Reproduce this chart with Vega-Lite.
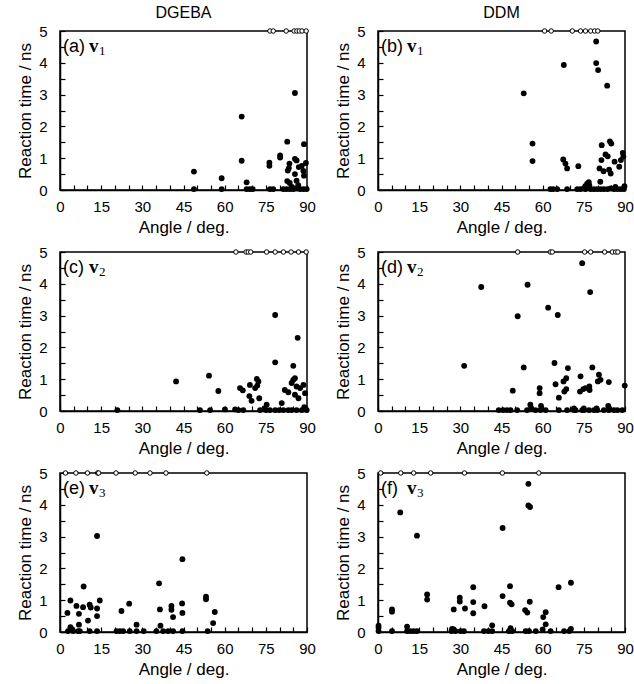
{
"$schema":"https://vega.github.io/schema/vega-lite/v6.json",
"padding":{"left":15,"top":4,"right":1,"bottom":0},
"background":"white",
"datasets":{
"points":[
{"panel":"a","angle":48.8,"time":0.58},{"panel":"a","angle":48.8,"time":0.03},{"panel":"a","angle":58.9,"time":0.37},{"panel":"a","angle":58.9,"time":0.03},{"panel":"a","angle":66.2,"time":2.31},{"panel":"a","angle":66.2,"time":0.92},{"panel":"a","angle":68.0,"time":0.24},{"panel":"a","angle":68.0,"time":0.03},{"panel":"a","angle":69.2,"time":0.03},{"panel":"a","angle":70.2,"time":0.03},{"panel":"a","angle":76.3,"time":0.86},{"panel":"a","angle":76.3,"time":0.76},{"panel":"a","angle":76.5,"time":0.03},{"panel":"a","angle":77.7,"time":0.03},{"panel":"a","angle":80.2,"time":1.09},{"panel":"a","angle":80.2,"time":1.02},{"panel":"a","angle":82.8,"time":1.52},{"panel":"a","angle":83.6,"time":0.83},{"panel":"a","angle":83.4,"time":0.69},{"panel":"a","angle":83.0,"time":0.61},{"panel":"a","angle":82.8,"time":0.28},{"panel":"a","angle":83.7,"time":0.22},{"panel":"a","angle":85.6,"time":3.05},{"panel":"a","angle":85.6,"time":0.98},{"panel":"a","angle":86.2,"time":0.93},{"panel":"a","angle":85.6,"time":0.5},{"panel":"a","angle":86.2,"time":0.29},{"panel":"a","angle":86.8,"time":0.15},{"panel":"a","angle":88.9,"time":1.44},{"panel":"a","angle":89.6,"time":0.85},{"panel":"a","angle":88.1,"time":0.76},{"panel":"a","angle":88.7,"time":0.6},{"panel":"a","angle":88.9,"time":0.45},{"panel":"a","angle":87.0,"time":0.72},{"panel":"a","angle":84.5,"time":0.1},{"panel":"a","angle":81.4,"time":0.03},{"panel":"a","angle":82.6,"time":0.03},{"panel":"a","angle":83.8,"time":0.03},{"panel":"a","angle":85.0,"time":0.03},{"panel":"a","angle":86.2,"time":0.05},{"panel":"a","angle":87.5,"time":0.03},{"panel":"a","angle":88.7,"time":0.03},{"panel":"a","angle":89.9,"time":0.03},
{"panel":"a","angle":76.5,"time":5,"beyond":true},{"panel":"a","angle":77.7,"time":5,"beyond":true},{"panel":"a","angle":82.4,"time":5,"beyond":true},{"panel":"a","angle":85.3,"time":5,"beyond":true},{"panel":"a","angle":86.3,"time":5,"beyond":true},{"panel":"a","angle":87.2,"time":5,"beyond":true},{"panel":"a","angle":88.2,"time":5,"beyond":true},{"panel":"a","angle":89.7,"time":5,"beyond":true},
{"panel":"b","angle":53.1,"time":3.04},{"panel":"b","angle":56.3,"time":1.46},{"panel":"b","angle":56.3,"time":0.91},{"panel":"b","angle":67.7,"time":3.93},{"panel":"b","angle":67.5,"time":0.96},{"panel":"b","angle":68.3,"time":0.83},{"panel":"b","angle":68.9,"time":0.68},{"panel":"b","angle":73.0,"time":0.75},{"panel":"b","angle":79.5,"time":4.67},{"panel":"b","angle":79.5,"time":3.99},{"panel":"b","angle":80.2,"time":3.77},{"panel":"b","angle":83.5,"time":3.28},{"panel":"b","angle":81.5,"time":1.41},{"panel":"b","angle":84.5,"time":1.53},{"panel":"b","angle":85.0,"time":1.46},{"panel":"b","angle":82.9,"time":1.12},{"panel":"b","angle":83.7,"time":1.06},{"panel":"b","angle":81.4,"time":0.94},{"panel":"b","angle":80.7,"time":0.68},{"panel":"b","angle":82.2,"time":0.59},{"panel":"b","angle":84.2,"time":0.64},{"panel":"b","angle":84.8,"time":0.52},{"panel":"b","angle":86.2,"time":0.89},{"panel":"b","angle":87.9,"time":0.73},{"panel":"b","angle":88.5,"time":0.94},{"panel":"b","angle":89.2,"time":1.17},{"panel":"b","angle":89.4,"time":1.05},{"panel":"b","angle":81.0,"time":0.26},{"panel":"b","angle":76.2,"time":0.2},{"panel":"b","angle":76.8,"time":0.25},{"panel":"b","angle":75.5,"time":0.12},{"panel":"b","angle":77.0,"time":0.15},{"panel":"b","angle":86.5,"time":0.1},{"panel":"b","angle":89.8,"time":0.12},
{"panel":"b","angle":62.8,"time":0.03},{"panel":"b","angle":63.8,"time":0.03},{"panel":"b","angle":65.3,"time":0.03},{"panel":"b","angle":68.9,"time":0.03},{"panel":"b","angle":72.6,"time":0.03},{"panel":"b","angle":73.8,"time":0.03},{"panel":"b","angle":75.0,"time":0.05},{"panel":"b","angle":75.6,"time":0.03},{"panel":"b","angle":76.8,"time":0.06},{"panel":"b","angle":77.5,"time":0.03},{"panel":"b","angle":78.7,"time":0.03},{"panel":"b","angle":79.9,"time":0.03},{"panel":"b","angle":81.1,"time":0.03},{"panel":"b","angle":82.3,"time":0.03},{"panel":"b","angle":83.6,"time":0.03},{"panel":"b","angle":84.8,"time":0.05},{"panel":"b","angle":86.0,"time":0.03},{"panel":"b","angle":87.2,"time":0.03},{"panel":"b","angle":88.4,"time":0.03},{"panel":"b","angle":89.6,"time":0.03},
{"panel":"b","angle":60.7,"time":5,"beyond":true},{"panel":"b","angle":63.1,"time":5,"beyond":true},{"panel":"b","angle":70.8,"time":5,"beyond":true},{"panel":"b","angle":73.8,"time":5,"beyond":true},{"panel":"b","angle":75.6,"time":5,"beyond":true},{"panel":"b","angle":77.5,"time":5,"beyond":true},{"panel":"b","angle":78.9,"time":5,"beyond":true},{"panel":"b","angle":80.1,"time":5,"beyond":true},
{"panel":"c","angle":20.9,"time":0.03},{"panel":"c","angle":42.3,"time":0.93},{"panel":"c","angle":54.3,"time":1.11},{"panel":"c","angle":57.7,"time":0.63},{"panel":"c","angle":65.6,"time":0.72},{"panel":"c","angle":66.6,"time":0.65},{"panel":"c","angle":69.2,"time":0.82},{"panel":"c","angle":69.0,"time":0.47},{"panel":"c","angle":69.8,"time":0.32},{"panel":"c","angle":71.7,"time":1.01},{"panel":"c","angle":72.3,"time":0.93},{"panel":"c","angle":71.1,"time":0.72},{"panel":"c","angle":71.9,"time":0.8},{"panel":"c","angle":72.6,"time":0.4},{"panel":"c","angle":78.4,"time":3.02},{"panel":"c","angle":78.4,"time":1.53},{"panel":"c","angle":86.6,"time":2.3},{"panel":"c","angle":85.0,"time":1.42},{"panel":"c","angle":85.0,"time":0.98},{"panel":"c","angle":85.6,"time":1.03},{"panel":"c","angle":84.4,"time":0.88},{"panel":"c","angle":81.9,"time":0.66},{"panel":"c","angle":83.2,"time":0.59},{"panel":"c","angle":86.2,"time":0.77},{"panel":"c","angle":87.5,"time":0.72},{"panel":"c","angle":88.7,"time":0.82},{"panel":"c","angle":85.6,"time":0.51},{"panel":"c","angle":89.3,"time":0.56},{"panel":"c","angle":86.9,"time":0.4},{"panel":"c","angle":80.8,"time":0.25},{"panel":"c","angle":75.3,"time":0.2},{"panel":"c","angle":74.5,"time":0.08},{"panel":"c","angle":89.0,"time":0.12},
{"panel":"c","angle":51.0,"time":0.03},{"panel":"c","angle":54.7,"time":0.03},{"panel":"c","angle":60.1,"time":0.05},{"panel":"c","angle":63.8,"time":0.05},{"panel":"c","angle":65.0,"time":0.03},{"panel":"c","angle":66.8,"time":0.03},{"panel":"c","angle":72.9,"time":0.03},{"panel":"c","angle":75.1,"time":0.03},{"panel":"c","angle":76.5,"time":0.03},{"panel":"c","angle":78.4,"time":0.03},{"panel":"c","angle":79.9,"time":0.03},{"panel":"c","angle":81.4,"time":0.03},{"panel":"c","angle":83.2,"time":0.03},{"panel":"c","angle":84.4,"time":0.03},{"panel":"c","angle":86.2,"time":0.03},{"panel":"c","angle":88.1,"time":0.03},{"panel":"c","angle":89.9,"time":0.03},
{"panel":"c","angle":64.1,"time":5,"beyond":true},{"panel":"c","angle":67.8,"time":5,"beyond":true},{"panel":"c","angle":68.6,"time":5,"beyond":true},{"panel":"c","angle":69.5,"time":5,"beyond":true},{"panel":"c","angle":75.3,"time":5,"beyond":true},{"panel":"c","angle":78.4,"time":5,"beyond":true},{"panel":"c","angle":81.4,"time":5,"beyond":true},{"panel":"c","angle":84.2,"time":5,"beyond":true},{"panel":"c","angle":86.9,"time":5,"beyond":true},{"panel":"c","angle":89.7,"time":5,"beyond":true},
{"panel":"d","angle":31.4,"time":1.42},{"panel":"d","angle":37.6,"time":3.9},{"panel":"d","angle":49.1,"time":0.64},{"panel":"d","angle":50.9,"time":2.98},{"panel":"d","angle":53.1,"time":1.37},{"panel":"d","angle":54.5,"time":3.97},{"panel":"d","angle":55.5,"time":0.2},{"panel":"d","angle":55.8,"time":0.1},{"panel":"d","angle":58.9,"time":0.72},{"panel":"d","angle":58.9,"time":0.56},{"panel":"d","angle":59.4,"time":0.16},{"panel":"d","angle":62.0,"time":3.25},{"panel":"d","angle":64.3,"time":1.51},{"panel":"d","angle":65.5,"time":3.02},{"panel":"d","angle":64.7,"time":0.84},{"panel":"d","angle":65.9,"time":0.42},{"panel":"d","angle":67.6,"time":0.93},{"panel":"d","angle":68.6,"time":1.03},{"panel":"d","angle":67.9,"time":0.61},{"panel":"d","angle":68.6,"time":0.69},{"panel":"d","angle":69.2,"time":1.35},{"panel":"d","angle":73.8,"time":1.09},{"panel":"d","angle":73.6,"time":0.61},{"panel":"d","angle":74.8,"time":0.69},{"panel":"d","angle":75.6,"time":0.72},{"panel":"d","angle":74.4,"time":4.65},{"panel":"d","angle":77.0,"time":0.77},{"panel":"d","angle":77.1,"time":0.66},{"panel":"d","angle":77.3,"time":3.74},{"panel":"d","angle":78.1,"time":1.37},{"panel":"d","angle":80.5,"time":1.14},{"panel":"d","angle":81.1,"time":0.98},{"panel":"d","angle":80.1,"time":0.93},{"panel":"d","angle":84.1,"time":0.91},{"panel":"d","angle":83.9,"time":0.16},{"panel":"d","angle":89.9,"time":0.8},
{"panel":"d","angle":44.0,"time":0.03},{"panel":"d","angle":45.6,"time":0.03},{"panel":"d","angle":47.0,"time":0.03},{"panel":"d","angle":48.3,"time":0.03},{"panel":"d","angle":50.7,"time":0.03},{"panel":"d","angle":54.3,"time":0.03},{"panel":"d","angle":57.4,"time":0.03},{"panel":"d","angle":59.2,"time":0.03},{"panel":"d","angle":61.1,"time":0.03},{"panel":"d","angle":65.9,"time":0.03},{"panel":"d","angle":68.9,"time":0.03},{"panel":"d","angle":71.4,"time":0.03},{"panel":"d","angle":72.0,"time":0.03},{"panel":"d","angle":74.4,"time":0.03},{"panel":"d","angle":75.0,"time":0.03},{"panel":"d","angle":76.9,"time":0.03},{"panel":"d","angle":78.7,"time":0.03},{"panel":"d","angle":79.9,"time":0.03},{"panel":"d","angle":82.3,"time":0.03},{"panel":"d","angle":84.1,"time":0.03},{"panel":"d","angle":86.0,"time":0.03},{"panel":"d","angle":87.2,"time":0.03},{"panel":"d","angle":89.0,"time":0.03},{"panel":"d","angle":71.4,"time":0.08},{"panel":"d","angle":75.0,"time":0.08},{"panel":"d","angle":79.6,"time":0.08},
{"panel":"d","angle":50.9,"time":5,"beyond":true},{"panel":"d","angle":62.8,"time":5,"beyond":true},{"panel":"d","angle":63.5,"time":5,"beyond":true},{"panel":"d","angle":75.3,"time":5,"beyond":true},{"panel":"d","angle":77.5,"time":5,"beyond":true},{"panel":"d","angle":82.6,"time":5,"beyond":true},{"panel":"d","angle":85.4,"time":5,"beyond":true},{"panel":"d","angle":86.6,"time":5,"beyond":true},{"panel":"d","angle":87.4,"time":5,"beyond":true},
{"panel":"e","angle":13.5,"time":3.02},{"panel":"e","angle":44.6,"time":2.29},{"panel":"e","angle":8.6,"time":1.43},{"panel":"e","angle":36.1,"time":1.53},{"panel":"e","angle":53.2,"time":1.11},{"panel":"e","angle":53.2,"time":1.03},{"panel":"e","angle":3.8,"time":0.99},{"panel":"e","angle":14.5,"time":0.99},{"panel":"e","angle":25.2,"time":0.89},{"panel":"e","angle":44.5,"time":0.9},{"panel":"e","angle":6.0,"time":0.82},{"panel":"e","angle":10.8,"time":0.86},{"panel":"e","angle":11.2,"time":0.77},{"panel":"e","angle":8.4,"time":0.78},{"panel":"e","angle":40.6,"time":0.82},{"panel":"e","angle":40.6,"time":0.7},{"panel":"e","angle":36.4,"time":0.71},{"panel":"e","angle":13.5,"time":0.74},{"panel":"e","angle":6.9,"time":0.57},{"panel":"e","angle":2.7,"time":0.6},{"panel":"e","angle":22.4,"time":0.66},{"panel":"e","angle":56.4,"time":0.63},{"panel":"e","angle":41.2,"time":0.47},{"panel":"e","angle":44.6,"time":0.6},{"panel":"e","angle":13.5,"time":0.5},{"panel":"e","angle":10.2,"time":0.36},{"panel":"e","angle":55.8,"time":0.28},{"panel":"e","angle":6.9,"time":0.23},{"panel":"e","angle":27.9,"time":0.23},{"panel":"e","angle":3.8,"time":0.15},{"panel":"e","angle":4.2,"time":0.1},{"panel":"e","angle":36.6,"time":0.2},
{"panel":"e","angle":2.9,"time":0.03},{"panel":"e","angle":4.8,"time":0.03},{"panel":"e","angle":6.6,"time":0.03},{"panel":"e","angle":7.2,"time":0.03},{"panel":"e","angle":10.8,"time":0.03},{"panel":"e","angle":13.5,"time":0.03},{"panel":"e","angle":20.6,"time":0.03},{"panel":"e","angle":21.8,"time":0.03},{"panel":"e","angle":23.0,"time":0.03},{"panel":"e","angle":25.4,"time":0.03},{"panel":"e","angle":27.9,"time":0.03},{"panel":"e","angle":30.5,"time":0.03},{"panel":"e","angle":35.1,"time":0.03},{"panel":"e","angle":37.6,"time":0.03},{"panel":"e","angle":39.4,"time":0.03},{"panel":"e","angle":41.2,"time":0.03},{"panel":"e","angle":44.6,"time":0.03},{"panel":"e","angle":53.8,"time":0.03},
{"panel":"e","angle":2.0,"time":5,"beyond":true},{"panel":"e","angle":5.8,"time":5,"beyond":true},{"panel":"e","angle":10.0,"time":5,"beyond":true},{"panel":"e","angle":13.7,"time":5,"beyond":true},{"panel":"e","angle":14.1,"time":5,"beyond":true},{"panel":"e","angle":20.4,"time":5,"beyond":true},{"panel":"e","angle":27.4,"time":5,"beyond":true},{"panel":"e","angle":32.8,"time":5,"beyond":true},{"panel":"e","angle":38.6,"time":5,"beyond":true},{"panel":"e","angle":53.5,"time":5,"beyond":true},
{"panel":"f","angle":54.8,"time":4.66},{"panel":"f","angle":54.8,"time":3.98},{"panel":"f","angle":55.4,"time":3.93},{"panel":"f","angle":8.1,"time":3.76},{"panel":"f","angle":14.2,"time":3.03},{"panel":"f","angle":45.4,"time":3.27},{"panel":"f","angle":70.3,"time":1.55},{"panel":"f","angle":65.8,"time":1.41},{"panel":"f","angle":48.1,"time":1.44},{"panel":"f","angle":34.7,"time":1.41},{"panel":"f","angle":17.9,"time":1.18},{"panel":"f","angle":17.9,"time":1.02},{"panel":"f","angle":29.8,"time":1.08},{"panel":"f","angle":29.8,"time":0.96},{"panel":"f","angle":45.4,"time":1.13},{"panel":"f","angle":34.7,"time":0.94},{"panel":"f","angle":31.7,"time":0.74},{"panel":"f","angle":27.6,"time":0.71},{"panel":"f","angle":38.8,"time":0.81},{"panel":"f","angle":48.1,"time":0.92},{"panel":"f","angle":48.7,"time":0.87},{"panel":"f","angle":55.3,"time":0.95},{"panel":"f","angle":34.7,"time":0.59},{"panel":"f","angle":53.6,"time":0.69},{"panel":"f","angle":54.4,"time":0.61},{"panel":"f","angle":5.1,"time":0.71},{"panel":"f","angle":5.1,"time":0.64},{"panel":"f","angle":61.1,"time":0.62},{"panel":"f","angle":60.2,"time":0.47},{"panel":"f","angle":61.1,"time":0.24},{"panel":"f","angle":41.6,"time":0.21},{"panel":"f","angle":10.6,"time":0.17},{"panel":"f","angle":0.2,"time":0.2},{"panel":"f","angle":0.2,"time":0.13},{"panel":"f","angle":48.3,"time":0.12},{"panel":"f","angle":27.0,"time":0.1},{"panel":"f","angle":27.6,"time":0.08},{"panel":"f","angle":70.3,"time":0.1},{"panel":"f","angle":60.0,"time":0.08},
{"panel":"f","angle":0.2,"time":0.03},{"panel":"f","angle":5.1,"time":0.03},{"panel":"f","angle":10.6,"time":0.03},{"panel":"f","angle":11.8,"time":0.03},{"panel":"f","angle":13.0,"time":0.03},{"panel":"f","angle":14.2,"time":0.03},{"panel":"f","angle":26.8,"time":0.03},{"panel":"f","angle":28.2,"time":0.03},{"panel":"f","angle":30.1,"time":0.03},{"panel":"f","angle":31.3,"time":0.03},{"panel":"f","angle":38.6,"time":0.03},{"panel":"f","angle":40.2,"time":0.03},{"panel":"f","angle":41.6,"time":0.03},{"panel":"f","angle":47.7,"time":0.03},{"panel":"f","angle":48.9,"time":0.03},{"panel":"f","angle":53.8,"time":0.03},{"panel":"f","angle":55.0,"time":0.03},{"panel":"f","angle":57.5,"time":0.03},{"panel":"f","angle":62.9,"time":0.03},{"panel":"f","angle":67.8,"time":0.03},{"panel":"f","angle":69.7,"time":0.03},
{"panel":"f","angle":1.0,"time":5,"beyond":true},{"panel":"f","angle":8.3,"time":5,"beyond":true},{"panel":"f","angle":13.0,"time":5,"beyond":true},{"panel":"f","angle":19.2,"time":5,"beyond":true},{"panel":"f","angle":31.5,"time":5,"beyond":true},{"panel":"f","angle":45.3,"time":5,"beyond":true},{"panel":"f","angle":58.6,"time":5,"beyond":true}
]},
"columns":2,
"bounds":"flush",
"spacing":{"row":62,"column":71},
"concat":[
{"width":247,"height":159,"title":"DGEBA",
"layer":[
{"data":{"name":"points"},"transform":[{"filter":"datum.panel==='a'"}],
"encoding":{"x":{"field":"angle","type":"quantitative","scale":{"domain":[0,90],"nice":false},"axis":{"title":"Angle / deg.","values":[0,5,10,15,20,25,30,35,40,45,50,55,60,65,70,75,80,85,90],"labelExpr":"datum.value % 15 === 0 ? format(datum.value,'d') : ''"}},
"y":{"field":"time","type":"quantitative","scale":{"domain":[0,5],"nice":false},"axis":{"title":"Reaction time / ns","values":[0,0.5,1,1.5,2,2.5,3,3.5,4,4.5,5],"labelExpr":"datum.value % 1 === 0 ? format(datum.value,'d') : ''"}}},
"layer":[
{"transform":[{"filter":"!datum.beyond"}],"mark":{"type":"circle","size":34,"color":"black","opacity":1}},
{"transform":[{"filter":"datum.beyond"}],"mark":{"type":"point","shape":"circle","size":20,"filled":true,"fill":"white","stroke":"black","strokeWidth":1,"opacity":1}}]},
{"data":{"values":[{"tag":"(a)","symbol":"v","index":"1"}]},
"encoding":{"x":{"datum":0,"type":"quantitative","axis":{"title":"Angle / deg.","values":[0,5,10,15,20,25,30,35,40,45,50,55,60,65,70,75,80,85,90],"labelExpr":"datum.value % 15 === 0 ? format(datum.value,'d') : ''"}},"y":{"datum":5,"type":"quantitative","axis":{"title":"Reaction time / ns","values":[0,0.5,1,1.5,2,2.5,3,3.5,4,4.5,5],"labelExpr":"datum.value % 1 === 0 ? format(datum.value,'d') : ''"}}},
"layer":[
{"mark":{"type":"text","font":"Liberation Sans","fontSize":18,"align":"left","baseline":"alphabetic","dx":3,"dy":21,"color":"black"},"encoding":{"text":{"field":"tag"}}},
{"mark":{"type":"text","font":"Liberation Serif","fontSize":19,"fontWeight":"bold","align":"left","baseline":"alphabetic","dx":29,"dy":21,"color":"black"},"encoding":{"text":{"field":"symbol"}}},
{"mark":{"type":"text","font":"Liberation Serif","fontSize":13,"align":"left","baseline":"alphabetic","dx":39,"dy":24,"color":"black"},"encoding":{"text":{"field":"index"}}}]}
]},
{"width":247,"height":159,"title":"DDM",
"layer":[
{"data":{"name":"points"},"transform":[{"filter":"datum.panel==='b'"}],
"encoding":{"x":{"field":"angle","type":"quantitative","scale":{"domain":[0,90],"nice":false},"axis":{"title":"Angle / deg.","values":[0,5,10,15,20,25,30,35,40,45,50,55,60,65,70,75,80,85,90],"labelExpr":"datum.value % 15 === 0 ? format(datum.value,'d') : ''"}},
"y":{"field":"time","type":"quantitative","scale":{"domain":[0,5],"nice":false},"axis":{"title":"Reaction time / ns","values":[0,0.5,1,1.5,2,2.5,3,3.5,4,4.5,5],"labelExpr":"datum.value % 1 === 0 ? format(datum.value,'d') : ''"}}},
"layer":[
{"transform":[{"filter":"!datum.beyond"}],"mark":{"type":"circle","size":34,"color":"black","opacity":1}},
{"transform":[{"filter":"datum.beyond"}],"mark":{"type":"point","shape":"circle","size":20,"filled":true,"fill":"white","stroke":"black","strokeWidth":1,"opacity":1}}]},
{"data":{"values":[{"tag":"(b)","symbol":"v","index":"1"}]},
"encoding":{"x":{"datum":0,"type":"quantitative","axis":{"title":"Angle / deg.","values":[0,5,10,15,20,25,30,35,40,45,50,55,60,65,70,75,80,85,90],"labelExpr":"datum.value % 15 === 0 ? format(datum.value,'d') : ''"}},"y":{"datum":5,"type":"quantitative","axis":{"title":"Reaction time / ns","values":[0,0.5,1,1.5,2,2.5,3,3.5,4,4.5,5],"labelExpr":"datum.value % 1 === 0 ? format(datum.value,'d') : ''"}}},
"layer":[
{"mark":{"type":"text","font":"Liberation Sans","fontSize":18,"align":"left","baseline":"alphabetic","dx":3,"dy":21,"color":"black"},"encoding":{"text":{"field":"tag"}}},
{"mark":{"type":"text","font":"Liberation Serif","fontSize":19,"fontWeight":"bold","align":"left","baseline":"alphabetic","dx":29,"dy":21,"color":"black"},"encoding":{"text":{"field":"symbol"}}},
{"mark":{"type":"text","font":"Liberation Serif","fontSize":13,"align":"left","baseline":"alphabetic","dx":39,"dy":24,"color":"black"},"encoding":{"text":{"field":"index"}}}]}
]},
{"width":247,"height":159,
"layer":[
{"data":{"name":"points"},"transform":[{"filter":"datum.panel==='c'"}],
"encoding":{"x":{"field":"angle","type":"quantitative","scale":{"domain":[0,90],"nice":false},"axis":{"title":"Angle / deg.","values":[0,5,10,15,20,25,30,35,40,45,50,55,60,65,70,75,80,85,90],"labelExpr":"datum.value % 15 === 0 ? format(datum.value,'d') : ''"}},
"y":{"field":"time","type":"quantitative","scale":{"domain":[0,5],"nice":false},"axis":{"title":"Reaction time / ns","values":[0,0.5,1,1.5,2,2.5,3,3.5,4,4.5,5],"labelExpr":"datum.value % 1 === 0 ? format(datum.value,'d') : ''"}}},
"layer":[
{"transform":[{"filter":"!datum.beyond"}],"mark":{"type":"circle","size":34,"color":"black","opacity":1}},
{"transform":[{"filter":"datum.beyond"}],"mark":{"type":"point","shape":"circle","size":20,"filled":true,"fill":"white","stroke":"black","strokeWidth":1,"opacity":1}}]},
{"data":{"values":[{"tag":"(c)","symbol":"v","index":"2"}]},
"encoding":{"x":{"datum":0,"type":"quantitative","axis":{"title":"Angle / deg.","values":[0,5,10,15,20,25,30,35,40,45,50,55,60,65,70,75,80,85,90],"labelExpr":"datum.value % 15 === 0 ? format(datum.value,'d') : ''"}},"y":{"datum":5,"type":"quantitative","axis":{"title":"Reaction time / ns","values":[0,0.5,1,1.5,2,2.5,3,3.5,4,4.5,5],"labelExpr":"datum.value % 1 === 0 ? format(datum.value,'d') : ''"}}},
"layer":[
{"mark":{"type":"text","font":"Liberation Sans","fontSize":18,"align":"left","baseline":"alphabetic","dx":3,"dy":21,"color":"black"},"encoding":{"text":{"field":"tag"}}},
{"mark":{"type":"text","font":"Liberation Serif","fontSize":19,"fontWeight":"bold","align":"left","baseline":"alphabetic","dx":29,"dy":21,"color":"black"},"encoding":{"text":{"field":"symbol"}}},
{"mark":{"type":"text","font":"Liberation Serif","fontSize":13,"align":"left","baseline":"alphabetic","dx":39,"dy":24,"color":"black"},"encoding":{"text":{"field":"index"}}}]}
]},
{"width":247,"height":159,
"layer":[
{"data":{"name":"points"},"transform":[{"filter":"datum.panel==='d'"}],
"encoding":{"x":{"field":"angle","type":"quantitative","scale":{"domain":[0,90],"nice":false},"axis":{"title":"Angle / deg.","values":[0,5,10,15,20,25,30,35,40,45,50,55,60,65,70,75,80,85,90],"labelExpr":"datum.value % 15 === 0 ? format(datum.value,'d') : ''"}},
"y":{"field":"time","type":"quantitative","scale":{"domain":[0,5],"nice":false},"axis":{"title":"Reaction time / ns","values":[0,0.5,1,1.5,2,2.5,3,3.5,4,4.5,5],"labelExpr":"datum.value % 1 === 0 ? format(datum.value,'d') : ''"}}},
"layer":[
{"transform":[{"filter":"!datum.beyond"}],"mark":{"type":"circle","size":34,"color":"black","opacity":1}},
{"transform":[{"filter":"datum.beyond"}],"mark":{"type":"point","shape":"circle","size":20,"filled":true,"fill":"white","stroke":"black","strokeWidth":1,"opacity":1}}]},
{"data":{"values":[{"tag":"(d)","symbol":"v","index":"2"}]},
"encoding":{"x":{"datum":0,"type":"quantitative","axis":{"title":"Angle / deg.","values":[0,5,10,15,20,25,30,35,40,45,50,55,60,65,70,75,80,85,90],"labelExpr":"datum.value % 15 === 0 ? format(datum.value,'d') : ''"}},"y":{"datum":5,"type":"quantitative","axis":{"title":"Reaction time / ns","values":[0,0.5,1,1.5,2,2.5,3,3.5,4,4.5,5],"labelExpr":"datum.value % 1 === 0 ? format(datum.value,'d') : ''"}}},
"layer":[
{"mark":{"type":"text","font":"Liberation Sans","fontSize":18,"align":"left","baseline":"alphabetic","dx":3,"dy":21,"color":"black"},"encoding":{"text":{"field":"tag"}}},
{"mark":{"type":"text","font":"Liberation Serif","fontSize":19,"fontWeight":"bold","align":"left","baseline":"alphabetic","dx":29,"dy":21,"color":"black"},"encoding":{"text":{"field":"symbol"}}},
{"mark":{"type":"text","font":"Liberation Serif","fontSize":13,"align":"left","baseline":"alphabetic","dx":39,"dy":24,"color":"black"},"encoding":{"text":{"field":"index"}}}]}
]},
{"width":247,"height":159,
"layer":[
{"data":{"name":"points"},"transform":[{"filter":"datum.panel==='e'"}],
"encoding":{"x":{"field":"angle","type":"quantitative","scale":{"domain":[0,90],"nice":false},"axis":{"title":"Angle / deg.","values":[0,5,10,15,20,25,30,35,40,45,50,55,60,65,70,75,80,85,90],"labelExpr":"datum.value % 15 === 0 ? format(datum.value,'d') : ''"}},
"y":{"field":"time","type":"quantitative","scale":{"domain":[0,5],"nice":false},"axis":{"title":"Reaction time / ns","values":[0,0.5,1,1.5,2,2.5,3,3.5,4,4.5,5],"labelExpr":"datum.value % 1 === 0 ? format(datum.value,'d') : ''"}}},
"layer":[
{"transform":[{"filter":"!datum.beyond"}],"mark":{"type":"circle","size":34,"color":"black","opacity":1}},
{"transform":[{"filter":"datum.beyond"}],"mark":{"type":"point","shape":"circle","size":20,"filled":true,"fill":"white","stroke":"black","strokeWidth":1,"opacity":1}}]},
{"data":{"values":[{"tag":"(e)","symbol":"v","index":"3"}]},
"encoding":{"x":{"datum":0,"type":"quantitative","axis":{"title":"Angle / deg.","values":[0,5,10,15,20,25,30,35,40,45,50,55,60,65,70,75,80,85,90],"labelExpr":"datum.value % 15 === 0 ? format(datum.value,'d') : ''"}},"y":{"datum":5,"type":"quantitative","axis":{"title":"Reaction time / ns","values":[0,0.5,1,1.5,2,2.5,3,3.5,4,4.5,5],"labelExpr":"datum.value % 1 === 0 ? format(datum.value,'d') : ''"}}},
"layer":[
{"mark":{"type":"text","font":"Liberation Sans","fontSize":18,"align":"left","baseline":"alphabetic","dx":3,"dy":21,"color":"black"},"encoding":{"text":{"field":"tag"}}},
{"mark":{"type":"text","font":"Liberation Serif","fontSize":19,"fontWeight":"bold","align":"left","baseline":"alphabetic","dx":29,"dy":21,"color":"black"},"encoding":{"text":{"field":"symbol"}}},
{"mark":{"type":"text","font":"Liberation Serif","fontSize":13,"align":"left","baseline":"alphabetic","dx":39,"dy":24,"color":"black"},"encoding":{"text":{"field":"index"}}}]}
]},
{"width":247,"height":159,
"layer":[
{"data":{"name":"points"},"transform":[{"filter":"datum.panel==='f'"}],
"encoding":{"x":{"field":"angle","type":"quantitative","scale":{"domain":[0,90],"nice":false},"axis":{"title":"Angle / deg.","values":[0,5,10,15,20,25,30,35,40,45,50,55,60,65,70,75,80,85,90],"labelExpr":"datum.value % 15 === 0 ? format(datum.value,'d') : ''"}},
"y":{"field":"time","type":"quantitative","scale":{"domain":[0,5],"nice":false},"axis":{"title":"Reaction time / ns","values":[0,0.5,1,1.5,2,2.5,3,3.5,4,4.5,5],"labelExpr":"datum.value % 1 === 0 ? format(datum.value,'d') : ''"}}},
"layer":[
{"transform":[{"filter":"!datum.beyond"}],"mark":{"type":"circle","size":34,"color":"black","opacity":1}},
{"transform":[{"filter":"datum.beyond"}],"mark":{"type":"point","shape":"circle","size":20,"filled":true,"fill":"white","stroke":"black","strokeWidth":1,"opacity":1}}]},
{"data":{"values":[{"tag":"(f)","symbol":"v","index":"3"}]},
"encoding":{"x":{"datum":0,"type":"quantitative","axis":{"title":"Angle / deg.","values":[0,5,10,15,20,25,30,35,40,45,50,55,60,65,70,75,80,85,90],"labelExpr":"datum.value % 15 === 0 ? format(datum.value,'d') : ''"}},"y":{"datum":5,"type":"quantitative","axis":{"title":"Reaction time / ns","values":[0,0.5,1,1.5,2,2.5,3,3.5,4,4.5,5],"labelExpr":"datum.value % 1 === 0 ? format(datum.value,'d') : ''"}}},
"layer":[
{"mark":{"type":"text","font":"Liberation Sans","fontSize":18,"align":"left","baseline":"alphabetic","dx":3,"dy":21,"color":"black"},"encoding":{"text":{"field":"tag"}}},
{"mark":{"type":"text","font":"Liberation Serif","fontSize":19,"fontWeight":"bold","align":"left","baseline":"alphabetic","dx":29,"dy":21,"color":"black"},"encoding":{"text":{"field":"symbol"}}},
{"mark":{"type":"text","font":"Liberation Serif","fontSize":13,"align":"left","baseline":"alphabetic","dx":39,"dy":24,"color":"black"},"encoding":{"text":{"field":"index"}}}]}
]}
],
"config":{
"view":{"stroke":"black","strokeWidth":1.5},
"axis":{"grid":false,"domainColor":"black","domainWidth":1.5,"tickColor":"black","tickWidth":1.2,"tickSize":-5,"labelFont":"Liberation Sans","labelFontSize":15,"labelColor":"black","titleFont":"Liberation Sans","titleFontSize":17,"titleFontWeight":"normal","titleColor":"black","labelFlush":false,"labelOverlap":false},
"axisX":{"labelPadding":14,"titlePadding":5},
"axisY":{"labelPadding":18,"titlePadding":4},
"title":{"font":"Liberation Sans","fontSize":16,"fontWeight":"normal","color":"black","offset":3}
}
}
